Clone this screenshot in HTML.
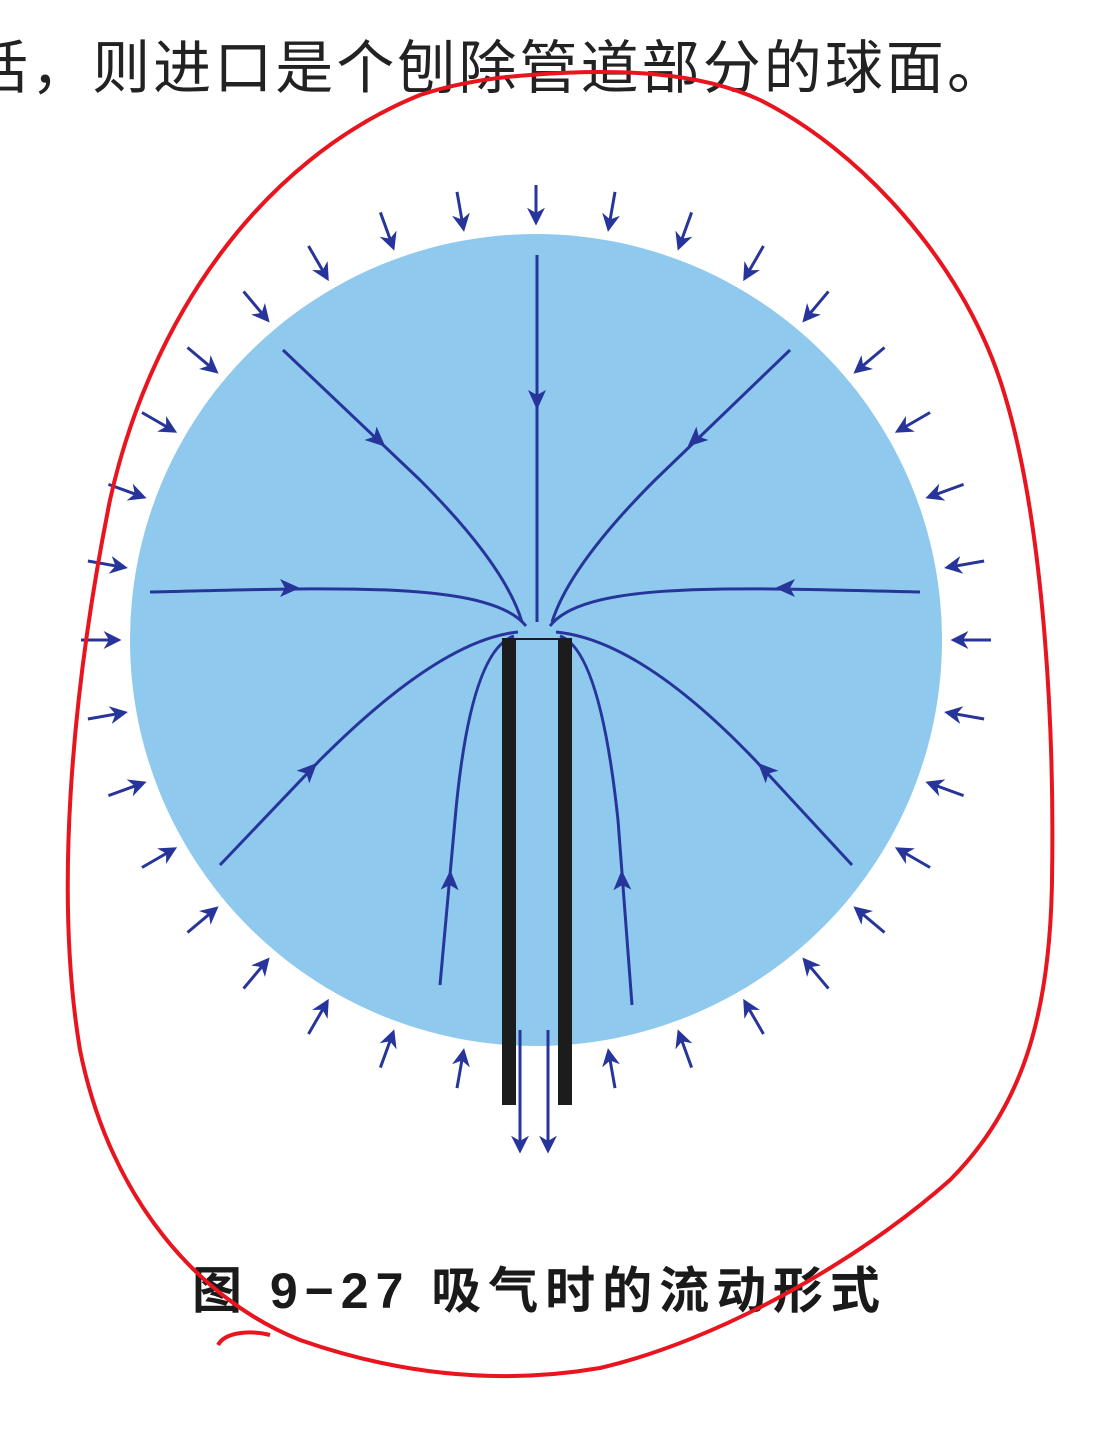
<!DOCTYPE html>
<html><head><meta charset="utf-8"><style>
html,body{margin:0;padding:0;background:#fff;width:1120px;height:1445px;overflow:hidden}
svg{display:block}
text{font-family:"Liberation Sans","Noto Sans CJK SC",sans-serif}
</style></head><body>
<svg id="fig" width="1120" height="1445" viewBox="0 0 1120 1445">
<defs>
<marker id="ah" viewBox="0 0 10 10" refX="8" refY="5" markerWidth="18" markerHeight="18" orient="auto-start-reverse" markerUnits="userSpaceOnUse">
<path d="M0,0 L10,5 L0,10 L3,5 z" fill="#27349a"/></marker>
</defs>
<text x="-28" y="-8" font-size="58" fill="#222">球面为进口，若用管道吸气的</text>
<text x="-30" y="88" font-size="58" fill="#222" textLength="1035" lengthAdjust="spacing">话，则进口是个刨除管道部分的球面。</text>
<circle cx="536" cy="640" r="406" fill="#8fcaee"/>
<g id="ring"></g>
<g id="lines" fill="none" stroke="#27349a" stroke-width="3">
<path d="M537,255 L537,622"/>
<path d="M283,350 L420,480 Q505,565 522,622"/>
<path d="M790,350 L655,480 Q570,565 552,622"/>
<path d="M150,592 C330,588 490,580 526,626"/>
<path d="M920,592 C740,588 585,580 550,626"/>
<path d="M220,865 L320,760 Q440,640 518,632"/>
<path d="M852,865 L755,760 Q640,640 556,632"/>
<path d="M440,985 L455,820 Q470,650 514,636"/>
<path d="M632,1005 L618,820 Q600,650 560,636"/>
</g>
<g id="mids"></g>
<g>
<rect x="502" y="638" width="14" height="467" fill="#1c1c1c"/>
<rect x="558" y="638" width="14" height="467" fill="#1c1c1c"/>
<line x1="516" y1="639" x2="558" y2="639" stroke="#1c1c1c" stroke-width="2"/>
<line x1="520" y1="1030" x2="520" y2="1150" stroke="#27349a" stroke-width="3" marker-end="url(#ah)"/>
<line x1="548" y1="1030" x2="548" y2="1150" stroke="#27349a" stroke-width="3" marker-end="url(#ah)"/>
</g>
<text x="192" y="1308" font-size="50" font-weight="bold" fill="#1a1a1a" textLength="688" lengthAdjust="spacing">图 9−27  吸气时的流动形式</text>
<path d="M530,75 C620,68 700,72 760,100 C860,150 960,260 1000,380 C1040,500 1055,700 1052,880 C1050,1020 1020,1110 950,1180 C860,1260 720,1340 600,1368 C500,1385 400,1375 300,1340 C200,1300 110,1200 80,1050 C55,900 70,700 110,500 C150,320 260,160 420,95 C460,82 500,77 530,75 M270,1335 C250,1330 225,1332 218,1345" fill="none" stroke="#e8141e" stroke-width="4"/>
</svg>
<script>
const ringAngles=[0,10,20,30,40,50,60,70,80,90,100,110,120,130,140,150,160,170,190,200,210,220,230,240,250,260,270,280,290,300,310,320,330,340,350];
const midPoints=[[537,400,90],[378,440,42],[695,440,138],[290,588,0],[785,588,180],[310,770,-45],[765,770,-135],[450,880,-88],[622,880,-92]];
const ns="http://www.w3.org/2000/svg";
const ring=document.getElementById('ring');
const cx=536,cy=640;
ringAngles.forEach(a=>{
  const r=a*Math.PI/180;
  const sx=Math.sin(r),sy=-Math.cos(r);
  const l=document.createElementNS(ns,'line');
  l.setAttribute('x1',cx+sx*455);l.setAttribute('y1',cy+sy*455);
  l.setAttribute('x2',cx+sx*418);l.setAttribute('y2',cy+sy*418);
  l.setAttribute('stroke','#27349a');l.setAttribute('stroke-width','3');
  l.setAttribute('marker-end','url(#ah)');
  
  
  ring.appendChild(l);
});
const mids=document.getElementById('mids');
midPoints.forEach(p=>{
  const g=document.createElementNS(ns,'path');
  g.setAttribute('d','M-10,-9 L10,0 L-10,9 L-5,0 z');
  g.setAttribute('fill','#27349a');
  g.setAttribute('transform','translate('+p[0]+','+p[1]+') rotate('+p[2]+')');
  
  
  mids.appendChild(g);
});
</script>
</body></html>
